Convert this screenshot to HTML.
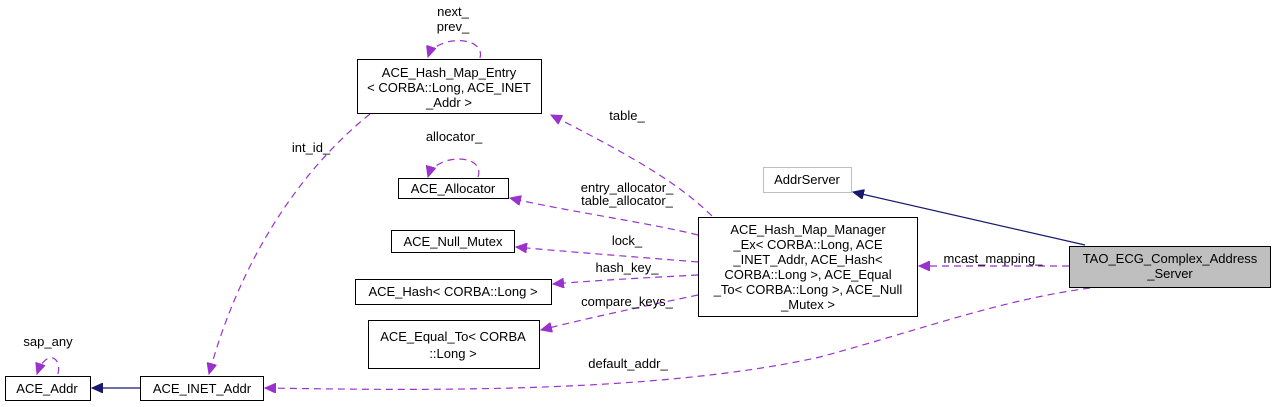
<!DOCTYPE html>
<html><head><meta charset="utf-8"><style>
html,body{margin:0;padding:0;background:#fff;}
svg{display:block;}
text{font-family:"Liberation Sans",Arial,sans-serif;font-size:13px;fill:#000;}
</style></head><body>
<svg width="1275" height="407" viewBox="0 0 1275 407" xmlns="http://www.w3.org/2000/svg">
<defs>
<marker id="pa" markerWidth="12" markerHeight="10" refX="11" refY="5" orient="auto" markerUnits="userSpaceOnUse"><path d="M0,0 L11,5 L0,10 z" fill="#9a32cd" stroke="#9a32cd"/></marker>
<marker id="na" markerWidth="12" markerHeight="10" refX="11" refY="5" orient="auto" markerUnits="userSpaceOnUse"><path d="M0,0 L11,5 L0,10 z" fill="#191970" stroke="#191970"/></marker>
</defs>
<g fill="none" stroke="#9a32cd" stroke-dasharray="7,5" stroke-width="1.2">
<path d="M480,58 C486,35 435,35 428,57" marker-end="url(#pa)"/>
<path d="M478,177 C486,153 435,153 428,177" marker-end="url(#pa)"/>
<path d="M58,374 C62,355 45,350 37,374" marker-end="url(#pa)"/>
<path d="M370,114 C300,170 240,260 209,374" marker-end="url(#pa)"/>
<path d="M712,216 C680,185 640,160 551,115" marker-end="url(#pa)"/>
<path d="M698,235 C650,223 560,210 510,198" marker-end="url(#pa)"/>
<path d="M698,262 C650,258 570,252 516,247" marker-end="url(#pa)"/>
<path d="M698,275 C660,277 600,280 553,284" marker-end="url(#pa)"/>
<path d="M698,295 C660,303 600,315 541,330" marker-end="url(#pa)"/>
<path d="M1090,288 C1000,300 920,330 820,357 C650,395 400,390 265,388" marker-end="url(#pa)"/>
<path d="M1069,266 L919,266" marker-end="url(#pa)"/>
</g>
<g stroke="#191970" stroke-width="1.2" fill="none">
<path d="M140,388 L92,388" marker-end="url(#na)"/>
<path d="M1085,245 L853,192" marker-end="url(#na)"/>
</g>
<g fill="#fff" stroke="#000" stroke-width="1">
<rect x="357.5" y="59.5" width="184" height="54"/>
<rect x="398.5" y="178.5" width="110" height="20"/>
<rect x="391.5" y="230.5" width="123" height="22"/>
<rect x="355.5" y="279.5" width="196" height="25"/>
<rect x="368.5" y="320.5" width="171" height="48"/>
<rect x="5.5" y="376.5" width="85" height="24"/>
<rect x="140.5" y="376.5" width="123" height="24"/>
<rect x="698.5" y="217.5" width="219" height="99"/>
<rect x="763.5" y="167.5" width="88" height="25" stroke="#bfbfbf"/>
<rect x="1069.5" y="246.5" width="201" height="41" fill="#bfbfbf"/>
</g>
<text x="453" y="16" text-anchor="middle">next_</text>
<text x="453" y="31" text-anchor="middle">prev_</text>
<text x="449" y="77" text-anchor="middle">ACE_Hash_Map_Entry</text>
<text x="449" y="92" text-anchor="middle">&lt; CORBA::Long, ACE_INET</text>
<text x="449" y="107" text-anchor="middle">_Addr &gt;</text>
<text x="454" y="141" text-anchor="middle">allocator_</text>
<text x="453" y="193" text-anchor="middle">ACE_Allocator</text>
<text x="453" y="246" text-anchor="middle">ACE_Null_Mutex</text>
<text x="453" y="296" text-anchor="middle">ACE_Hash&lt; CORBA::Long &gt;</text>
<text x="453" y="341" text-anchor="middle">ACE_Equal_To&lt; CORBA</text>
<text x="453" y="358" text-anchor="middle">::Long &gt;</text>
<text x="48" y="346" text-anchor="middle">sap_any</text>
<text x="47" y="393" text-anchor="middle">ACE_Addr</text>
<text x="202" y="393" text-anchor="middle">ACE_INET_Addr</text>
<text x="311" y="152" text-anchor="middle">int_id_</text>
<text x="627" y="120" text-anchor="middle">table_</text>
<text x="627" y="192" text-anchor="middle">entry_allocator_</text>
<text x="627" y="205" text-anchor="middle">table_allocator_</text>
<text x="627" y="245" text-anchor="middle">lock_</text>
<text x="627" y="272" text-anchor="middle">hash_key_</text>
<text x="627" y="306" text-anchor="middle">compare_keys_</text>
<text x="628" y="368" text-anchor="middle">default_addr_</text>
<text x="807" y="184" text-anchor="middle">AddrServer</text>
<text x="808" y="234" text-anchor="middle">ACE_Hash_Map_Manager</text>
<text x="808" y="249" text-anchor="middle">_Ex&lt; CORBA::Long, ACE</text>
<text x="808" y="264" text-anchor="middle">_INET_Addr, ACE_Hash&lt;</text>
<text x="808" y="279" text-anchor="middle">CORBA::Long &gt;, ACE_Equal</text>
<text x="808" y="294" text-anchor="middle">_To&lt; CORBA::Long &gt;, ACE_Null</text>
<text x="808" y="309" text-anchor="middle">_Mutex &gt;</text>
<text x="993" y="263" text-anchor="middle">mcast_mapping_</text>
<text x="1170" y="263" text-anchor="middle">TAO_ECG_Complex_Address</text>
<text x="1170" y="278" text-anchor="middle">_Server</text>
</svg>
</body></html>
